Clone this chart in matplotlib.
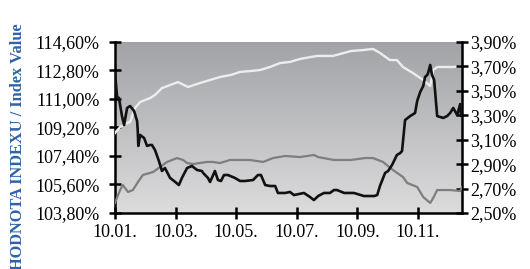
import numpy as np
import matplotlib
matplotlib.use("Agg")
import matplotlib.pyplot as plt
from matplotlib.colors import LinearSegmentedColormap

# ── Data (x = months since 10.01.) ──────────────────────────────────────────
# index value, left axis (%)
idx_m = [0.00, 0.17, 0.33, 0.50, 0.66, 0.83, 1.16, 1.32, 1.55, 1.82, 2.08, 2.41,
         2.81, 3.14, 3.47, 3.83, 4.13, 4.49, 4.79, 5.12, 5.45, 5.78, 6.11, 6.67,
         7.20, 7.79, 8.19, 8.52, 8.75, 9.08, 9.31, 9.51, 9.84, 10.18, 10.41,
         10.51, 10.64, 10.90, 11.17, 11.40, 11.46]
idx_v = [108.85, 109.23, 109.42, 109.55, 110.43, 110.81, 111.06, 111.25, 111.69,
         111.88, 112.07, 111.76, 112.01, 112.20, 112.39, 112.52, 112.71, 112.77,
         112.83, 113.02, 113.27, 113.34, 113.53, 113.72, 113.72, 114.03, 114.09,
         114.16, 113.91, 113.46, 113.46, 113.02, 112.64, 112.20, 111.82, 112.83,
         113.02, 113.02, 113.02, 113.08, 112.96]

# grey series, right axis (%)
grey_m = [0.00, 0.10, 0.17, 0.26, 0.43, 0.59, 0.76, 0.92, 1.26, 1.49, 1.72, 2.05,
          2.25, 2.38, 2.58, 3.04, 3.24, 3.47, 3.80, 4.13, 4.46, 4.89, 5.22, 5.62,
          6.11, 6.57, 6.71, 7.23, 7.79, 8.26, 8.52, 8.85, 9.18, 9.51, 9.65, 9.98,
          10.18, 10.41, 10.51, 10.64, 11.07, 11.40, 11.46]
grey_v = [2.582, 2.647, 2.688, 2.729, 2.672, 2.688, 2.754, 2.811, 2.836, 2.877,
          2.918, 2.950, 2.934, 2.909, 2.901, 2.918, 2.918, 2.909, 2.934, 2.934,
          2.934, 2.918, 2.950, 2.967, 2.958, 2.975, 2.958, 2.934, 2.934, 2.950,
          2.950, 2.918, 2.852, 2.795, 2.746, 2.713, 2.631, 2.582, 2.623, 2.688,
          2.688, 2.680, 2.713]

# black series, right axis (%)
blk_m = [0.00, 0.07, 0.13, 0.23, 0.30, 0.40, 0.50, 0.63, 0.73, 0.75, 0.77, 0.83,
         0.96, 1.06, 1.16, 1.22, 1.32, 1.45, 1.55, 1.65, 1.82, 1.95, 2.11, 2.21,
         2.38, 2.54, 2.71, 2.87, 2.91, 3.07, 3.14, 3.30, 3.40, 3.50, 3.60, 3.73,
         3.96, 4.13, 4.29, 4.56, 4.72, 4.82, 4.96, 5.12, 5.29, 5.38, 5.62, 5.78,
         5.91, 6.24, 6.44, 6.57, 6.71, 6.90, 7.10, 7.23, 7.33, 7.57, 7.89, 8.22,
         8.56, 8.66, 8.75, 8.92, 9.02, 9.15, 9.31, 9.42, 9.48, 9.58, 9.75, 9.91,
         9.98, 10.08, 10.18, 10.24, 10.31, 10.34, 10.41, 10.47, 10.54, 10.64,
         10.74, 10.84, 10.97, 11.07, 11.17, 11.30, 11.40, 11.43, 11.46]
blk_v = [3.646, 3.450, 3.442, 3.294, 3.220, 3.360, 3.376, 3.335, 3.253, 3.180,
         3.049, 3.139, 3.114, 3.049, 3.057, 3.057, 3.016, 2.926, 2.844, 2.868,
         2.787, 2.762, 2.729, 2.787, 2.868, 2.885, 2.852, 2.844, 2.828, 2.787,
         2.754, 2.844, 2.770, 2.762, 2.811, 2.811, 2.787, 2.762, 2.762, 2.770,
         2.811, 2.811, 2.729, 2.721, 2.721, 2.664, 2.664, 2.672, 2.647, 2.664,
         2.631, 2.606, 2.639, 2.664, 2.664, 2.688, 2.688, 2.664, 2.664, 2.639,
         2.639, 2.647, 2.721, 2.828, 2.844, 2.893, 2.975, 2.991, 3.008, 3.261,
         3.294, 3.319, 3.417, 3.491, 3.540, 3.613, 3.630, 3.646, 3.712, 3.630,
         3.589, 3.294, 3.286, 3.278, 3.294, 3.319, 3.360, 3.302, 3.392, 3.294,
         3.302]

x_ticks = [0, 2, 4, 6, 8, 10]
x_labels = ["10.01.", "10.03.", "10.05.", "10.07.", "10.09.", "10.11."]
left_ticks = [103.8, 105.6, 107.4, 109.2, 111.0, 112.8, 114.6]
right_ticks = [2.5, 2.7, 2.9, 3.1, 3.3, 3.5, 3.7, 3.9]


def pct(v, nd=2):
    return f"{v:.{nd}f}%".replace(".", ",")


plt.rcParams["font.family"] = ["Liberation Serif", "DejaVu Serif"]

fig = plt.figure(figsize=(5.30, 2.69), dpi=100)
ax = fig.add_axes([115 / 530, 1 - 213 / 269, 347 / 530, 171 / 269])
ax2 = ax.twinx()

# gradient background
grad = LinearSegmentedColormap.from_list("bg", ["#dcdcdd", "#a2a3a7"])
ax.imshow(np.linspace(0, 1, 256).reshape(-1, 1), cmap=grad, aspect="auto",
          origin="lower", extent=[0, 1, 0, 1], transform=ax.transAxes, zorder=0)

ax.plot(idx_m, idx_v, color="#ededed", lw=1.7, zorder=3)
ax2.plot(grey_m, grey_v, color="#7e7e7e", lw=1.6, zorder=3)
ax2.plot(blk_m, blk_v, color="#111111", lw=1.9, zorder=4)

ax.set_xlim(0, 11.46)
ax.set_ylim(103.8, 114.6)
ax2.set_ylim(2.5, 3.9)

ax.set_xticks(x_ticks)
ax.set_xticklabels(x_labels)
ax.set_yticks(left_ticks)
ax.set_yticklabels([pct(v) for v in left_ticks])
ax2.set_yticks(right_ticks)
ax2.set_yticklabels([pct(v) for v in right_ticks])

for a in (ax, ax2):
    for s in a.spines.values():
        s.set_linewidth(1.8)
        s.set_color("black")
    a.spines["top"].set_visible(False)
    a.tick_params(direction="inout", length=8, width=1.8, labelsize=13,
                  colors="black")
ax.tick_params(axis="y", pad=7)
ax.tick_params(axis="x", pad=4)
ax2.tick_params(axis="y", pad=2)
ax.spines["right"].set_visible(False)
ax2.spines["left"].set_visible(False)
ax2.spines["bottom"].set_visible(False)

fig.text(0.034, 0.455, "HODNOTA INDEXU / Index Value", rotation=90,
         ha="center", va="center", fontsize=11.8, fontweight="bold",
         color="#2f62a6")

fig.savefig("out.png", dpi=100)
